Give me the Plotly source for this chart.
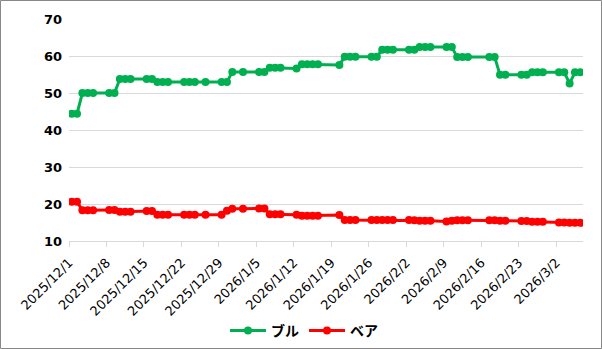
import pandas as pd
import plotly.graph_objects as go

dates = [
    "2025-12-01","2025-12-02","2025-12-03","2025-12-04","2025-12-05",
    "2025-12-08","2025-12-09","2025-12-10","2025-12-11","2025-12-12",
    "2025-12-15","2025-12-16","2025-12-17","2025-12-18","2025-12-19",
    "2025-12-22","2025-12-23","2025-12-24","2025-12-26",
    "2025-12-29","2025-12-30","2025-12-31",
    "2026-01-02",
    "2026-01-05","2026-01-06","2026-01-07","2026-01-08","2026-01-09",
    "2026-01-12","2026-01-13","2026-01-14","2026-01-15","2026-01-16",
    "2026-01-20","2026-01-21","2026-01-22","2026-01-23",
    "2026-01-26","2026-01-27","2026-01-28","2026-01-29","2026-01-30",
    "2026-02-02","2026-02-03","2026-02-04","2026-02-05","2026-02-06",
    "2026-02-09","2026-02-10","2026-02-11","2026-02-12","2026-02-13",
    "2026-02-17","2026-02-18","2026-02-19","2026-02-20",
    "2026-02-23","2026-02-24","2026-02-25","2026-02-26","2026-02-27",
    "2026-03-02","2026-03-03","2026-03-04","2026-03-05","2026-03-06",
]

bull = [
    44.4, 44.4, 50.0, 50.0, 50.0,
    50.0, 50.0, 53.8, 53.8, 53.8,
    53.8, 53.8, 53.0, 53.0, 53.0,
    53.0, 53.0, 53.0, 53.0,
    53.0, 53.0, 55.7,
    55.7,
    55.7, 55.7, 56.8, 56.8, 56.8,
    56.6, 57.8, 57.8, 57.8, 57.8,
    57.6, 59.8, 59.8, 59.8,
    59.8, 59.8, 61.7, 61.7, 61.7,
    61.7, 61.7, 62.4, 62.4, 62.4,
    62.4, 62.4, 59.7, 59.7, 59.7,
    59.7, 59.7, 54.9, 54.9,
    54.9, 54.9, 55.6, 55.6, 55.6,
    55.6, 55.6, 52.6, 55.6, 55.6,
]

bear = [
    20.6, 20.6, 18.3, 18.3, 18.3,
    18.4, 18.4, 17.9, 17.9, 17.9,
    18.1, 18.1, 17.1, 17.1, 17.1,
    17.1, 17.1, 17.1, 17.1,
    17.1, 18.2, 18.7,
    18.7,
    18.8, 18.8, 17.2, 17.2, 17.2,
    17.1, 16.8, 16.8, 16.8, 16.8,
    17.0, 15.7, 15.7, 15.7,
    15.7, 15.7, 15.7, 15.7, 15.7,
    15.7, 15.6, 15.5, 15.5, 15.5,
    15.3, 15.5, 15.6, 15.6, 15.6,
    15.6, 15.6, 15.5, 15.5,
    15.4, 15.4, 15.2, 15.2, 15.2,
    15.0, 15.0, 14.9, 14.9, 14.9,
]

series_names = ["ブル", "ベア"]
colors = ["#00B050", "#FF0000"]

# points sit in the middle of each day slot
x = pd.to_datetime(dates) + pd.Timedelta(hours=12)

fig = go.Figure()
for name, vals, c in zip(series_names, [bull, bear], colors):
    fig.add_trace(go.Scatter(
        x=x, y=vals, name=name, mode="lines+markers",
        line=dict(color=c, width=3),
        marker=dict(color=c, size=8),
    ))

W, H = 602, 349
ml, mr, mt, mb = 69, 19, 19, 108
pw, ph = W - ml - mr, H - mt - mb

fig.update_layout(
    width=W, height=H,
    margin=dict(l=ml, r=mr, t=mt, b=mb, autoexpand=False),
    paper_bgcolor="white", plot_bgcolor="white",
    font=dict(family="DejaVu Sans, Noto Sans CJK JP", color="#000"),
    showlegend=True,
    legend=dict(orientation="h", x=(304 - ml) / pw, xanchor="center", y=(241 - 331) / ph,
                yanchor="middle", font=dict(size=14, family="Noto Sans CJK JP", weight="bold"),
                itemwidth=36, tracegroupgap=0, bgcolor="rgba(0,0,0,0)"),
    xaxis=dict(
        type="date", range=["2025-12-01", "2026-03-07"], automargin=False,
        tick0="2025-12-01", dtick=7 * 86400000, tickformat="%Y/%-m/%-d",
        tickangle=-45, tickfont=dict(size=13, family="DejaVu Sans"),
        showgrid=False, showline=True, linecolor="#d9d9d9", linewidth=1,
        ticks="outside", ticklen=5, tickcolor="#d9d9d9", zeroline=False,
        ticklabelstandoff=3,
    ),
    yaxis=dict(
        range=[10, 70], dtick=10, showgrid=True, gridcolor="#d9d9d9", gridwidth=1,
        automargin=False,
        tickfont=dict(size=13, family="DejaVu Sans", weight="bold"),
        showline=False, zeroline=False, ticks="", ticklabelstandoff=6,
    ),
    shapes=[dict(
        type="rect", xref="paper", yref="paper",
        x0=(0.5 - ml) / pw, x1=(W - 0.5 - ml) / pw,
        y0=(mt + ph - (H - 0.5)) / ph, y1=(mt + ph - 0.5) / ph,
        line=dict(color="#888888", width=1), fillcolor="rgba(0,0,0,0)", layer="below",
    )],
)

fig.write_html("out.html")
